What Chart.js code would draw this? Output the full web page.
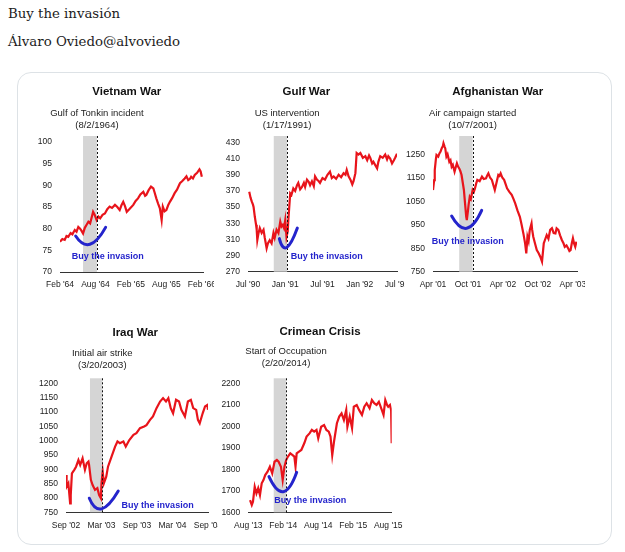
<!DOCTYPE html>
<html>
<head>
<meta charset="utf-8">
<script src="https://cdn.jsdelivr.net/npm/chart.js@4.4.1/dist/chart.umd.min.js"></script>
<style>
  body { margin:0; background:#fff; width:625px; height:552px; position:relative; overflow:hidden; }
  .head { position:absolute; left:8px; font:13.3px/16px "DejaVu Serif", Georgia, serif; color:#1c1c1c; white-space:nowrap; }
  #card { position:absolute; left:17px; top:72px; width:593px; height:471px; border:1px solid #dde2e6; border-radius:14px; }
  canvas { position:absolute; }
</style>
</head>
<body>
<div class="head" style="top:6px">Buy the invasión</div>
<div class="head" style="top:34px">Álvaro Oviedo@alvoviedo</div>
<div id="card"></div>
<canvas id="vietnam"></canvas>
<canvas id="gulf"></canvas>
<canvas id="afghan"></canvas>
<canvas id="iraq"></canvas>
<canvas id="crimea"></canvas>
<script>
// months since the first tick label, and index level
const vietnamMonths = [0,0.4,0.8,1.1,1.4,1.8,2.1,2.5,2.8,3.1,3.4,3.6,3.9,4.2,4.5,4.8,5.1,5.4,5.6,5.9,6.2,6.5,6.8,7.2,7.6,8.0,8.4,8.8,9.3,9.7,10.1,10.4,10.7,11.0,11.3,11.8,12.4,12.8,13.2,13.6,14.1,14.4,14.6,15.0,15.4,15.8,16.0,16.3,16.6,16.9,17.2,17.4,17.7,18.0,18.3,18.6,19.0,19.4,19.8,20.3,20.7,21.1,21.4,21.7,22.0,22.2,22.5,22.8,23.2,23.6,23.8,24.0];
const vietnamValues = [77.0,77.6,77.4,78.3,78.1,79.0,78.7,79.7,79.3,80.4,80.0,79.6,78.9,80.2,80.9,81.6,81.2,82.8,83.9,83.1,82.0,82.8,82.4,83.2,83.5,84.5,85.1,84.8,85.5,85.0,84.3,85.4,86.2,85.2,83.9,84.6,85.5,86.4,87.0,87.9,88.5,87.6,87.8,88.9,89.7,89.3,88.4,87.0,85.8,84.7,82.0,85.1,84.0,84.3,85.4,86.2,87.1,88.2,89.0,90.5,91.0,91.6,92.1,91.2,91.5,92.0,91.6,92.4,92.9,93.7,93.2,92.0];
const vietnamXTicks = ["Feb '64", "Aug '64", "Feb '65", "Aug '65", "Feb '66"];
const vietnamYTicks = [70, 75, 80, 85, 90, 95, 100];

const gulfMonths = [0.2,0.4,0.6,0.8,0.9,1.1,1.3,1.4,1.5,1.7,1.9,2.2,2.5,2.7,3.0,3.2,3.5,3.8,4.1,4.3,4.6,4.9,5.2,5.4,5.6,5.8,6.0,6.2,6.4,6.5,6.8,7.0,7.3,7.6,7.9,8.1,8.4,8.7,9.0,9.2,9.5,9.8,10.0,10.3,10.6,10.8,11.1,11.4,11.6,12.0,12.4,12.8,13.2,13.5,13.8,14.2,14.6,15.0,15.4,15.7,15.9,16.2,16.5,16.8,17.0,17.3,17.5,17.8,18.1,18.5,18.9,19.2,19.5,19.7,20.0,20.2,20.5,20.8,21.0,21.3,21.7,22.1,22.4,22.6,22.9,23.2,23.5,23.7,24.0];
const gulfValues = [369,362,357,353,350,338,328,322,309,318,324,318,322,312,299,305,309,305,318,312,322,318,332,326,328,324,334,313,320,334,367,365,373,370,377,380,372,375,380,375,384,381,377,382,376,388,384,382,380,386,384,390,394,386,388,385,390,387,392,390,396,388,384,378,382,392,417,415,417,411,413,408,414,411,404,406,402,398,406,413,411,415,409,413,410,404,408,411,416];
const gulfXTicks = ["Jul '90", "Jan '91", "Jul '91", "Jan '92", "Jul '92"];
const gulfYTicks = [270, 290, 310, 330, 350, 370, 390, 410, 430];

const afghanMonths = [0.0,0.2,0.3,0.5,0.6,0.9,1.1,1.3,1.5,1.7,1.8,2.0,2.1,2.3,2.5,2.8,3.0,3.2,3.4,3.7,3.9,4.1,4.3,4.5,4.7,4.9,5.1,5.3,5.5,5.7,5.8,6.0,6.1,6.3,6.5,6.8,7.0,7.2,7.4,7.6,8.0,8.4,8.7,9.1,9.3,9.5,9.8,10.1,10.4,10.6,10.9,11.2,11.4,11.6,11.9,12.2,12.5,12.7,13.1,13.5,13.8,14.1,14.5,14.9,15.2,15.5,15.8,16.0,16.2,16.4,16.6,16.9,17.0,17.2,17.5,17.8,18.1,18.4,18.7,19.0,19.2,19.5,19.8,20.1,20.4,20.7,21.0,21.2,21.5,21.8,22.1,22.4,22.6,22.9,23.2,23.4,23.6,23.8,24.0,24.2,24.4,24.6];
const afghanValues = [1098,1140,1183,1230,1247,1240,1254,1262,1276,1285,1297,1282,1276,1240,1250,1218,1225,1197,1205,1176,1195,1212,1198,1190,1178,1162,1130,1098,1040,984,970,1010,1034,1069,1060,1098,1090,1105,1125,1141,1135,1155,1145,1148,1160,1169,1150,1141,1115,1098,1130,1162,1158,1169,1150,1141,1120,1105,1090,1077,1060,1041,1010,984,950,913,871,828,899,880,928,956,930,899,870,842,830,814,793,871,885,906,890,928,935,915,913,935,928,905,885,870,856,862,849,838,842,870,892,870,856,878];
const afghanXTicks = ["Apr '01", "Oct '01", "Apr '02", "Oct '02", "Apr '03"];
const afghanYTicks = [750, 850, 950, 1050, 1150, 1250];

const iraqMonths = [0,0.1,0.4,0.7,0.8,1.0,1.4,1.7,2.1,2.4,2.8,3.2,3.5,3.8,3.9,4.2,4.5,4.9,5.3,5.6,5.9,6.0,6.2,6.4,6.8,7.1,7.7,8.3,8.7,9.1,9.7,10.1,10.7,11.4,11.9,12.5,13.2,13.6,14.2,14.7,15.3,15.9,16.4,16.9,17.3,17.7,18.1,18.6,19.1,19.5,20.1,20.6,21.1,21.5,22.0,22.3,22.6,23.1,23.5,23.9,24.0];
const iraqValues = [880,839,851,781,810,886,898,909,932,915,938,898,921,927,915,863,845,828,834,810,799,851,892,851,874,909,944,979,997,991,997,979,1002,1020,1026,1043,1049,1054,1072,1084,1113,1136,1148,1136,1148,1113,1095,1142,1136,1107,1084,1136,1142,1113,1107,1072,1060,1095,1119,1124,1107];
const iraqXTicks = ["Sep '02", "Mar '03", "Sep '03", "Mar '04", "Sep '04"];
const iraqYTicks = [750, 800, 850, 900, 950, 1000, 1050, 1100, 1150, 1200];

const crimeaMonths = [0.3,0.6,0.8,1.1,1.4,1.7,2.0,2.3,2.6,2.9,3.3,3.7,4.1,4.5,4.9,5.2,5.6,5.9,6.2,6.5,6.8,7.2,7.6,7.9,8.1,8.3,8.7,9.1,9.6,10.0,10.5,10.9,11.3,11.7,12.0,12.5,13.0,13.4,13.8,14.1,14.4,14.7,15.2,15.6,16.0,16.4,16.8,17.0,17.4,17.8,18.1,18.6,19.0,19.5,19.9,20.3,20.8,21.2,21.6,22.0,22.4,22.9,23.2,23.5,23.8,24.0,24.3,24.5,24.6];
const crimeaValues = [1657,1634,1649,1719,1688,1712,1680,1735,1750,1773,1789,1812,1781,1835,1843,1835,1812,1750,1812,1843,1859,1874,1866,1859,1812,1874,1882,1890,1921,1952,1967,1983,1975,1983,1944,1998,2006,1983,1975,1952,1866,1928,2014,2045,2060,2029,2076,1998,2045,1991,2091,2099,2076,2053,2091,2107,2084,2122,2107,2099,2114,2076,2053,2122,2099,2091,2099,2076,1921];
const crimeaXTicks = ["Aug '13", "Feb '14", "Aug '14", "Feb '15", "Aug '15"];
const crimeaYTicks = [1600, 1700, 1800, 1900, 2000, 2100, 2200];

const tickMonths = [0, 6, 12, 18, 24];

const FONT = '"Liberation Sans", Arial, sans-serif';
const RED = '#e8141b';
const BLUE = '#2424cc';

// layout in page pixels; annotation spots in data units
const panels = [
  { id: 'vietnam', title: 'Vietnam War', event: ['Gulf of Tonkin incident', '(8/2/1964)'],
    months: vietnamMonths, values: vietnamValues, xTicks: vietnamXTicks, yTicks: vietnamYTicks,
    xMax: 24.2, yMin: 70, yMax: 101.4, band: [3.9, 6.25], eventAt: 6.25, titleAt: 11.3,
    arc: [[2.65, 78.3], [5.07, 76.4], [7.72, 80.3]], note: [1.97, 73.5],
    box: { l: 20, t: 75, w: 194, h: 225 }, plot: { l: 60, r: 203, t: 136, b: 272 }, titleY: 92, subY: 113.3 },
  { id: 'gulf', title: 'Gulf War', event: ['US intervention', '(1/17/1991)'],
    months: gulfMonths, values: gulfValues, xTicks: gulfXTicks, yTicks: gulfYTicks,
    xMax: 24, yMin: 270, yMax: 438, band: [4.15, 6.3], eventAt: 6.3, titleAt: 9.4,
    arc: [[5.05, 311], [6.24, 300], [7.95, 324]], note: [6.89, 288.6],
    box: { l: 214, t: 75, w: 191, h: 225 }, plot: { l: 248, r: 397, t: 136, b: 271.7 }, titleY: 92, subY: 113.3 },
  { id: 'afghan', title: 'Afghanistan War', event: ['Air campaign started', '(10/7/2001)'],
    months: afghanMonths, values: afghanValues, xTicks: afghanXTicks, yTicks: afghanYTicks,
    xMax: 24.7, yMin: 750, yMax: 1328, band: [4.5, 6.8], eventAt: 6.8, titleAt: 11.1,
    arc: [[3.2, 987], [5.78, 935], [8.35, 1011]], note: [-0.22, 878],
    box: { l: 405, t: 75, w: 180, h: 225 }, plot: { l: 433, r: 577, t: 136, b: 271.7 }, titleY: 92, subY: 113.3 },
  { id: 'iraq', title: 'Iraq War', event: ['Initial air strike', '(3/20/2003)'],
    months: iraqMonths, values: iraqValues, xTicks: iraqXTicks, yTicks: iraqYTicks,
    xMax: 24, yMin: 750, yMax: 1217, band: [4.05, 6.13], eventAt: 6.13, titleAt: 11.7,
    arc: [[3.94, 799], [6.03, 762], [8.83, 824]], note: [9.4, 773],
    box: { l: 20, t: 305, w: 198, h: 238 }, plot: { l: 66, r: 208, t: 378.3, b: 512.3 }, titleY: 333, subY: 353 },
  { id: 'crimea', title: 'Crimean Crisis', event: ['Start of Occupation', '(2/20/2014)'],
    months: crimeaMonths, values: crimeaValues, xTicks: crimeaXTicks, yTicks: crimeaYTicks,
    xMax: 24.6, yMin: 1600, yMax: 2223, band: [4.36, 6.47], eventAt: 6.47, titleAt: 12.3,
    arc: [[3.55, 1766], [6.0, 1696], [8.3, 1786]], note: [4.46, 1657],
    box: { l: 218, t: 305, w: 190, h: 238 }, plot: { l: 248.3, r: 391.7, t: 378.3, b: 512.3 }, titleY: 332, subY: 351.5 }
];

function markup(p) {
  return {
    id: 'markup',
    beforeDatasetsDraw(chart) {
      const { ctx, chartArea: a, scales: { x } } = chart;
      const x0 = x.getPixelForValue(p.band[0]);
      const x1 = x.getPixelForValue(p.band[1]);
      ctx.save();
      ctx.fillStyle = '#d5d5d5';
      ctx.fillRect(x0, a.top, x1 - x0, a.bottom - a.top);
      ctx.restore();
    },
    afterDatasetsDraw(chart) {
      const { ctx, chartArea: a, scales: { x, y } } = chart;
      ctx.save();
      // event line
      const ex = Math.round(x.getPixelForValue(p.eventAt)) + 0.5;
      ctx.strokeStyle = '#111';
      ctx.lineWidth = 1;
      ctx.setLineDash([2, 2]);
      ctx.beginPath();
      ctx.moveTo(ex, a.top);
      ctx.lineTo(ex, a.bottom);
      ctx.stroke();
      ctx.setLineDash([]);

      // hand drawn smile through three points
      const pts = p.arc.map(([m, v]) => [x.getPixelForValue(m), y.getPixelForValue(v)]);
      const cx = 2 * pts[1][0] - (pts[0][0] + pts[2][0]) / 2;
      const cy = 2 * pts[1][1] - (pts[0][1] + pts[2][1]) / 2;
      ctx.strokeStyle = BLUE;
      ctx.lineWidth = 3;
      ctx.lineCap = 'round';
      ctx.beginPath();
      ctx.moveTo(pts[0][0], pts[0][1]);
      ctx.quadraticCurveTo(cx, cy, pts[2][0], pts[2][1]);
      ctx.stroke();

      ctx.fillStyle = BLUE;
      ctx.font = 'bold 9px ' + FONT;
      ctx.textAlign = 'left';
      ctx.textBaseline = 'middle';
      ctx.fillText('Buy the invasion', x.getPixelForValue(p.note[0]), y.getPixelForValue(p.note[1]));
      ctx.restore();
    },
    afterDraw(chart) {
      const { ctx, scales: { x } } = chart;
      ctx.save();
      ctx.textAlign = 'center';
      ctx.textBaseline = 'middle';
      ctx.fillStyle = '#111';
      ctx.font = 'bold 11.5px ' + FONT;
      ctx.fillText(p.title, x.getPixelForValue(p.titleAt), p.titleY - p.box.t);
      ctx.fillStyle = '#222';
      ctx.font = '9.5px ' + FONT;
      const ex = x.getPixelForValue(p.eventAt);
      p.event.forEach((line, i) => ctx.fillText(line, ex, p.subY - p.box.t + i * 12));
      ctx.restore();
    }
  };
}

panels.forEach(p => {
  const canvas = document.getElementById(p.id);
  canvas.width = p.box.w;
  canvas.height = p.box.h;
  canvas.style.left = p.box.l + 'px';
  canvas.style.top = p.box.t + 'px';

  const yWidth = p.plot.l - p.box.l;
  const xHeight = p.box.t + p.box.h - p.plot.b;

  new Chart(canvas, {
    type: 'line',
    data: {
      datasets: [{
        data: p.months.map((m, i) => ({ x: m, y: p.values[i] })),
        borderColor: RED,
        borderWidth: 2.2,
        pointRadius: 0,
        tension: 0,
        fill: false
      }]
    },
    options: {
      responsive: false,
      animation: false,
      events: [],
      layout: { padding: { left: 0, top: p.plot.t - p.box.t, right: p.box.l + p.box.w - p.plot.r, bottom: 0 } },
      plugins: { legend: { display: false }, tooltip: { enabled: false } },
      scales: {
        x: {
          type: 'linear', min: 0, max: p.xMax,
          grid: { display: false, drawTicks: false },
          border: { display: true, color: '#333', width: 1 },
          afterBuildTicks: s => { s.ticks = tickMonths.map(v => ({ value: v })); },
          afterFit: s => { s.height = xHeight; s.paddingLeft = 0; s.paddingRight = 0; },
          ticks: { padding: 8, maxRotation: 0, autoSkip: false, color: '#222', font: { family: FONT, size: 8.5 },
                   callback: (v, i) => p.xTicks[i] }
        },
        y: {
          min: p.yMin, max: p.yMax,
          grid: { display: false, drawTicks: false },
          border: { display: false },
          afterBuildTicks: s => { s.ticks = p.yTicks.map(v => ({ value: v })); },
          afterFit: s => { s.width = yWidth; s.paddingTop = 0; s.paddingBottom = 0; },
          ticks: { padding: 8, color: '#222', font: { family: FONT, size: 8.5 }, callback: v => String(v) }
        }
      }
    },
    plugins: [markup(p)]
  });
});
</script>
</body>
</html>
